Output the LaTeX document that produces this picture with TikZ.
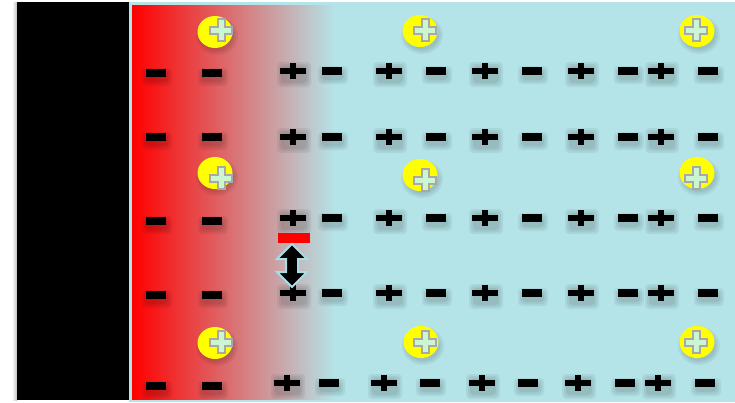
\documentclass[tikz,border=0pt]{standalone}
\usetikzlibrary{calc}
\definecolor{ionblue}{RGB}{180,228,232}
\definecolor{ionred}{RGB}{255,0,0}
\definecolor{ionyellow}{RGB}{255,255,0}
\definecolor{crossgreen}{RGB}{204,245,210}
\definecolor{crossgray}{RGB}{168,168,168}
\definecolor{arrowrim}{RGB}{168,222,230}
\tikzset{
  softshadow/.style={black,opacity=.06,rounded corners=4},
  minuscharge/.pic={
    \foreach \s in {0,2,4}
      \fill[softshadow] (-10-\s,-1-\s) rectangle (12+\s,9+\s);
    \fill[black] (-10,-4) rectangle (10,4);
  },
  pluscharge/.pic={
    \foreach \s in {0,2,4}
      \fill[softshadow] (-12-\s,-5-\s) rectangle (14+\s,12+\s);
    \fill[black] (-13,-3) rectangle (13,3);
    \fill[black] (-3,-8) rectangle (3,8);
  },
  ionbody/.pic={
    \foreach \s in {0,2,4}
      \fill[black,opacity=.05] (2,4) ellipse [x radius=17+\s,y radius=15+\s];
    \fill[ionyellow] (0,0) ellipse [x radius=17.5,y radius=16];
  },
  ioncross/.pic={
    \filldraw[fill=crossgreen,draw=crossgray,line width=2]
      (-3.5,-11) -- (3.5,-11) -- (3.5,-3.5) -- (11,-3.5) -- (11,3.5) -- (3.5,3.5)
      -- (3.5,11) -- (-3.5,11) -- (-3.5,3.5) -- (-11,3.5) -- (-11,-3.5) -- (-3.5,-3.5) -- cycle;
  }
}
\begin{document}
\begin{tikzpicture}[x=1pt,y=-1pt]
  \useasboundingbox (0,0) rectangle (735,402);
  \fill[white] (0,0) rectangle (735,402);
  % electrode
  \shade[left color=white,right color=gray!50] (12,2) rectangle (17,400);
  \fill[black] (17,2) rectangle (129,400);
  % electrolyte
  \fill[ionblue] (129,2) rectangle (735,402);
  \shade[left color=ionred,right color=ionblue] (132,5) rectangle (335,399);
  % charges near the electrode
  \foreach \y in {73,137,221,295,386}
    \foreach \x in {156,212}
      \pic at (\x,\y) {minuscharge};
  % charge rows in the bulk
  \foreach \y in {71,137,218,293} {
    \foreach \x in {332,436,532,628,708}
      \pic at (\x,\y) {minuscharge};
    \foreach \x in {293,389,485,581,661}
      \pic at (\x,\y) {pluscharge};
  }
  \foreach \x in {329,430,528,625,705}
    \pic at (\x,383) {minuscharge};
  \foreach \x in {287,384,482,578,658}
    \pic at (\x,383) {pluscharge};
  % adsorbed ions
  \foreach \x/\y/\cx/\cy in {215/32/221/30, 215/173/221/178, 215/343/221/342,
      420/31/425/30, 420/175/425/180, 421/342/425/342,
      697/31/696/30, 697/173/696/178, 697/342/696/342} {
    \pic at (\x,\y) {ionbody};
    \pic at (\cx,\cy) {ioncross};
  }
  % marker and double arrow
  \fill[ionred] (278,233) rectangle (310,243);
  \filldraw[fill=black,draw=arrowrim,line width=2,line join=miter]
    (292,244) -- (307,259) -- (298,259) -- (298,272) -- (307,272) -- (292,287)
    -- (277,272) -- (286,272) -- (286,259) -- (277,259) -- cycle;
\end{tikzpicture}
\end{document}
